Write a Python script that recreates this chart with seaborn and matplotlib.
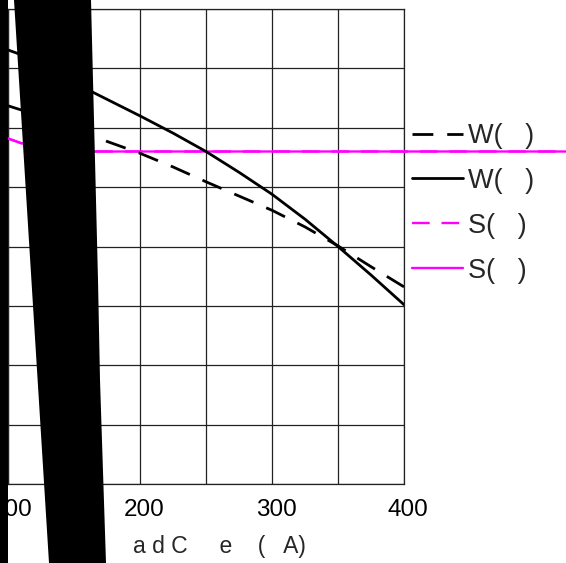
import matplotlib
matplotlib.use("Agg")
import matplotlib.pyplot as plt
import seaborn as sns
from matplotlib.patches import Polygon
from matplotlib.transforms import ScaledTranslation

# ---- data ----
w_dash_x = [100, 110, 165, 200, 225, 250, 275, 300, 325, 350, 375, 400]
w_dash_y = [6.37, 6.30, 5.85, 5.57, 5.34, 5.09, 4.85, 4.61, 4.33, 4.01, 3.66, 3.32]

w_solid_x = [100, 110, 165, 200, 225, 250, 275, 300, 325, 350, 375, 400]
w_solid_y = [7.31, 7.23, 6.59, 6.20, 5.91, 5.60, 5.25, 4.88, 4.46, 4.00, 3.52, 3.02]

s_dash_x = [100, 110, 165, 530]
s_dash_y = [5.82, 5.74, 5.60, 5.60]

s_solid_x = [100, 110, 165, 530]
s_solid_y = [5.82, 5.74, 5.60, 5.60]

x_ticks = [100, 150, 200, 250, 300, 350, 400]
x_tick_labels = ["100", "", "200", "", "300", "", "400"]
y_ticks = [0, 1, 2, 3, 4, 5, 6, 7, 8]
legend_labels = ["W(   )", "W(   )", "S(   )", "S(   )"]
x_label = "a d C     e    (   A)"

sns.set_style("white")
plt.rcParams["font.family"] = ["Liberation Sans", "DejaVu Sans"]
plt.rcParams["font.size"] = 17

W, H = 566, 563
fig = plt.figure(figsize=(W / 100, H / 100), dpi=100)
ax = fig.add_axes([8 / W, 79 / H, 396 / W, 475 / H])

magenta = "#ff00ff"
dash = (0, (7.5, 5))
sns.lineplot(x=s_dash_x, y=s_dash_y, ax=ax, color=magenta, lw=1.7,
             linestyle=dash, clip_on=False, label=legend_labels[2], zorder=3)
sns.lineplot(x=s_solid_x, y=s_solid_y, ax=ax, color=magenta, lw=1.7,
             clip_on=False, label=legend_labels[3], zorder=4)
sns.lineplot(x=w_dash_x, y=w_dash_y, ax=ax, color="black", lw=2.0,
             linestyle=dash, label=legend_labels[0], zorder=5)
sns.lineplot(x=w_solid_x, y=w_solid_y, ax=ax, color="black", lw=2.0,
             label=legend_labels[1], zorder=5)

ax.set_xlim(100, 400)
ax.set_ylim(0, 8)
ax.set_xticks(x_ticks)
ax.set_xticklabels(x_tick_labels)
ax.set_yticks(y_ticks)
ax.grid(True, color="#222222", lw=0.9)
ax.tick_params(length=0, labelsize=17.5, colors="black", pad=11)
for s in ax.spines.values():
    s.set_color("#222222")
    s.set_linewidth(0.9)
for lab in ax.get_xticklabels():
    lab.set_transform(lab.get_transform() + ScaledTranslation(4 / 100, 0, fig.dpi_scale_trans))

ax.set_xlabel(x_label, fontsize=16.5)
ax.set_ylabel("")
ax.xaxis.set_label_coords(0.534, -0.108)

handles, labels = ax.get_legend_handles_labels()
order = [2, 3, 0, 1]
leg = ax.legend([handles[i] for i in order], [labels[i] for i in order],
                loc="upper left", bbox_to_anchor=(412 / W, 1 - 123 / H),
                bbox_transform=fig.transFigure, frameon=False,
                handlelength=1.9, handletextpad=0.15, labelspacing=0.70,
                borderpad=0, borderaxespad=0, fontsize=19.5)

# redaction overlays present in the reference picture
def px(pts):
    return [(x / W, 1 - y / H) for x, y in pts]

fig.add_artist(Polygon(px([(0, 0), (7.5, 0), (7.5, H), (0, H)]),
                       closed=True, transform=fig.transFigure,
                       facecolor="black", edgecolor="none", zorder=20))
fig.add_artist(Polygon(px([(14, 0), (91, 0), (98, 280), (100, 380), (106, H), (49, H)]),
                       closed=True, transform=fig.transFigure,
                       facecolor="black", edgecolor="none", zorder=20))

fig.savefig("out.png", dpi=100)
